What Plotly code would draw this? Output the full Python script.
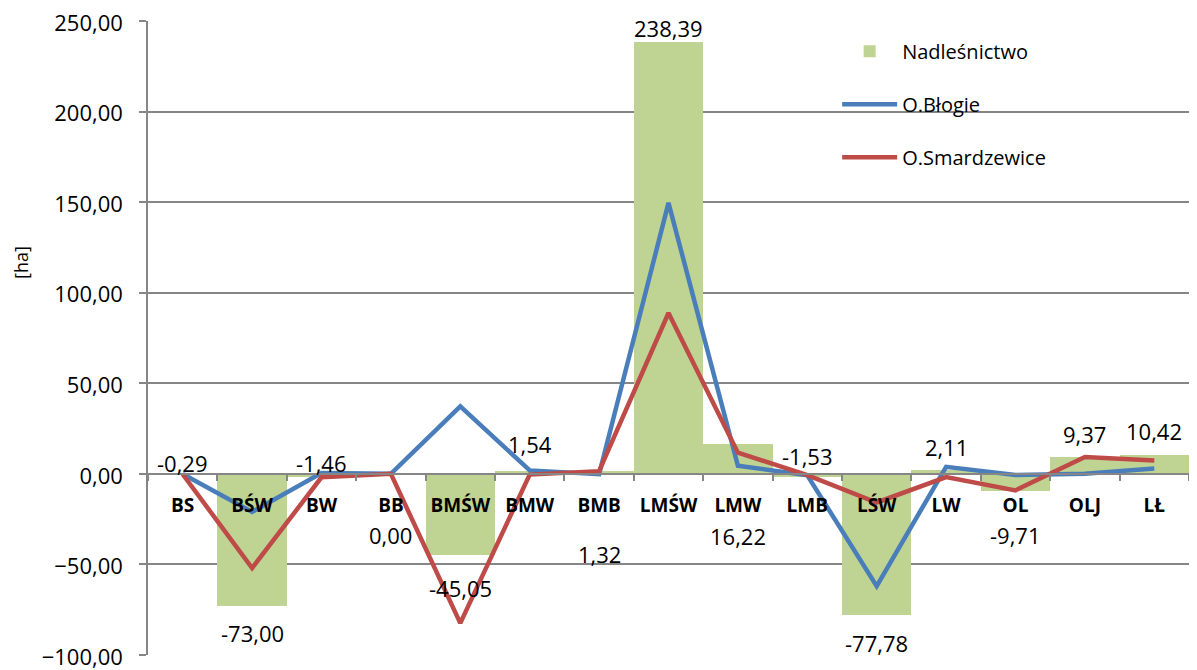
import plotly.graph_objects as go

categories = ["BS", "BŚW", "BW", "BB", "BMŚW", "BMW", "BMB", "LMŚW", "LMW",
              "LMB", "LŚW", "LW", "OL", "OLJ", "LŁ"]
nadlesnictwo = [-0.29, -73.00, -1.46, 0.00, -45.05, 1.54, 1.32, 238.39, 16.22,
                -1.53, -77.78, 2.11, -9.71, 9.37, 10.42]
o_blogie = [-0.1, -21.0, 0.4, 0.0, 37.3, 1.9, -0.2, 149.6, 4.5,
            -0.8, -62.0, 3.9, -0.6, 0.1, 3.0]
o_smardzewice = [-0.2, -52.0, -1.9, 0.0, -82.4, -0.4, 1.5, 88.8, 11.7,
                 -0.7, -15.8, -1.8, -9.1, 9.3, 7.4]
y_ticks = [-100, -50, 0, 50, 100, 150, 200, 250]

# label placement styles (anchor side, pixel shift)
label_anchor = ["bottom", "top", "bottom", "top", "top", "bottom", "top", "bottom",
                "top", "bottom", "top", "bottom", "top", "bottom", "bottom"]
label_shift = [-6, -10, -3, -44, -16, 10, -66, -3, -75, 4, -11, 6, -27, 6, 7]

FONT = "Open Sans"
GRID = "#868686"

fig = go.Figure()
fig.add_trace(go.Bar(
    x=categories, y=nadlesnictwo, name="Nadleśnictwo",
    marker=dict(color="#BFD492", line=dict(width=0)),
    legendgroup="a",
))
fig.add_trace(go.Scatter(
    x=categories, y=o_blogie, name="O.Błogie", mode="lines",
    line=dict(color="#4A7EBB", width=4.5), legendgroup="b",
))
fig.add_trace(go.Scatter(
    x=categories, y=o_smardzewice, name="O.Smardzewice", mode="lines",
    line=dict(color="#BE4B48", width=4.5), legendgroup="c",
))

for c, v, anc, sh in zip(categories, nadlesnictwo, label_anchor, label_shift):
    fig.add_annotation(
        x=c, y=v, text=f"{v:.2f}".replace(".", ","), showarrow=False,
        yanchor=anc, yshift=sh, font=dict(family=FONT, size=22, color="black"),
    )

fig.add_annotation(
    text="[ha]", xref="paper", yref="paper", x=-0.122, y=0.62,
    xanchor="center", yanchor="middle",
    showarrow=False, textangle=-90, font=dict(family=FONT, size=18, color="black"),
)

fig.update_layout(
    width=1189, height=662,
    margin=dict(l=140, r=8, t=13, b=15, autoexpand=False),
    paper_bgcolor="white", plot_bgcolor="white",
    separators=", ",
    bargap=0,
    font=dict(family=FONT, size=18, color="black"),
    showlegend=True,
    legend=dict(
        x=0.662, y=0.983, xanchor="left", yanchor="top",
        bgcolor="rgba(0,0,0,0)", tracegroupgap=24, itemwidth=55,
        font=dict(family=FONT, size=20, color="black"),
    ),
    xaxis=dict(
        type="category", categoryarray=categories,
        anchor="free", position=100 / 350, automargin=False,
        showline=True, linecolor=GRID, linewidth=1.5,
        ticks="outside", ticklen=6, tickcolor=GRID, tickwidth=1.5,
        tickson="boundaries", ticklabelstandoff=15, tickangle=0,
        tickfont=dict(family=FONT, size=19, color="black", weight="bold"),
        showgrid=False, zeroline=False,
    ),
    yaxis=dict(
        range=[-100, 250], tickvals=y_ticks, tickformat=".2f", automargin=False,
        showline=True, linecolor=GRID, linewidth=1.5,
        ticks="outside", ticklen=7, tickcolor=GRID, tickwidth=1.5,
        showgrid=True, gridcolor=GRID, gridwidth=1.5,
        zeroline=False, ticklabelstandoff=12, ticklabeloverflow="allow",
        ticklabelshift=2,
        tickfont=dict(family=FONT, size=22, color="black"),
    ),
)

fig.write_html("out.html")
